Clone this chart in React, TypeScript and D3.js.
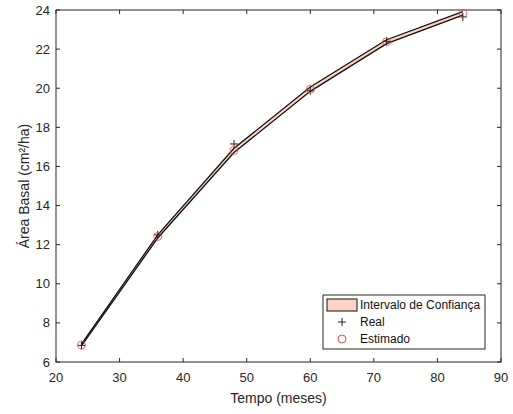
import React from "react";
import * as d3 from "d3";

const months = [24, 36, 48, 60, 72, 84];
const realValues = [6.85, 12.5, 17.15, 19.87, 22.4, 23.65];
const estimatedValues = [6.87, 12.42, 16.82, 19.95, 22.38, 23.83];
const lowerCI = [6.83, 12.34, 16.71, 19.84, 22.28, 23.74];
const upperCI = [6.91, 12.5, 16.93, 20.06, 22.48, 23.92];
const xTicks = [20, 30, 40, 50, 60, 70, 80, 90];
const yTicks = [6, 8, 10, 12, 14, 16, 18, 20, 22, 24];
const legendLabels = ["Intervalo de Confiança", "Real", "Estimado"];

const W = 513, H = 414;
const L = 56, R = 501, T = 10, B = 362;

export default function App() {
  const x = d3.scaleLinear().domain([20, 90]).range([L, R]);
  const y = d3.scaleLinear().domain([6, 24]).range([B, T]);
  const area = d3.area<number>()
    .x((_, i) => x(months[i]))
    .y0((_, i) => y(lowerCI[i]))
    .y1((d) => y(d));
  const line = d3.line<number>().x((_, i) => x(months[i])).y((d) => y(d));
  const font = "Arial, 'Liberation Sans', Helvetica, sans-serif";
  const tc = "#262626";
  return (
    <svg width={W} height={H} style={{ position: "absolute", left: 0, top: 0, background: "#fff" }} fontFamily={font}>
      <rect x={0} y={0} width={W} height={H} fill="#fff" />
      <path d={area(upperCI) || ""} fill="#fcd3c4" stroke="none" />
      <path d={line(upperCI) || ""} fill="none" stroke="#111" strokeWidth={1.3} />
      <path d={line(lowerCI) || ""} fill="none" stroke="#111" strokeWidth={1.3} />
      <rect x={L} y={T} width={R - L} height={B - T} fill="none" stroke={tc} strokeWidth={1} />
      {xTicks.map((t) => (
        <g key={"x" + t}>
          <line x1={x(t)} x2={x(t)} y1={B} y2={B - 4} stroke={tc} />
          <line x1={x(t)} x2={x(t)} y1={T} y2={T + 4} stroke={tc} />
          <text x={x(t)} y={B + 20} textAnchor="middle" fontSize={13} fill={tc}>{t}</text>
        </g>
      ))}
      {yTicks.map((t) => (
        <g key={"y" + t}>
          <line x1={L} x2={L + 4} y1={y(t)} y2={y(t)} stroke={tc} />
          <line x1={R} x2={R - 4} y1={y(t)} y2={y(t)} stroke={tc} />
          <text x={L - 6} y={y(t) + 4.5} textAnchor="end" fontSize={13} fill={tc}>{t}</text>
        </g>
      ))}
      {months.map((m, i) => (
        <g key={"r" + m}>
          <line x1={x(m) - 4} x2={x(m) + 4} y1={y(realValues[i])} y2={y(realValues[i])} stroke="#222" />
          <line x1={x(m)} x2={x(m)} y1={y(realValues[i]) - 4} y2={y(realValues[i]) + 4} stroke="#222" />
        </g>
      ))}
      {months.map((m, i) => (
        <circle key={"e" + m} cx={x(m)} cy={y(estimatedValues[i])} r={4} fill="none" stroke="#e05050" strokeOpacity={0.8} />
      ))}
      <text x={(L + R) / 2} y={403} textAnchor="middle" fontSize={14} fill={tc}>Tempo (meses)</text>
      <text transform={`translate(29,${(T + B) / 2}) rotate(-90)`} textAnchor="middle" fontSize={14} fill={tc}>Área Basal (cm²/ha)</text>
      <g>
        <rect x={323} y={295} width={162} height={54} fill="#fff" stroke={tc} strokeWidth={1} />
        <rect x={327} y={299} width={30} height={12} fill="#fcd3c4" stroke="#111" strokeWidth={1} />
        <text x={360} y={309} fontSize={12} fill="#111">{legendLabels[0]}</text>
        <line x1={338} x2={346} y1={322} y2={322} stroke="#222" />
        <line x1={342} x2={342} y1={318} y2={326} stroke="#222" />
        <text x={360} y={326} fontSize={12} fill="#111">{legendLabels[1]}</text>
        <circle cx={342} cy={339} r={4} fill="none" stroke="#e05050" />
        <text x={360} y={343} fontSize={12} fill="#111">{legendLabels[2]}</text>
      </g>
    </svg>
  );
}
